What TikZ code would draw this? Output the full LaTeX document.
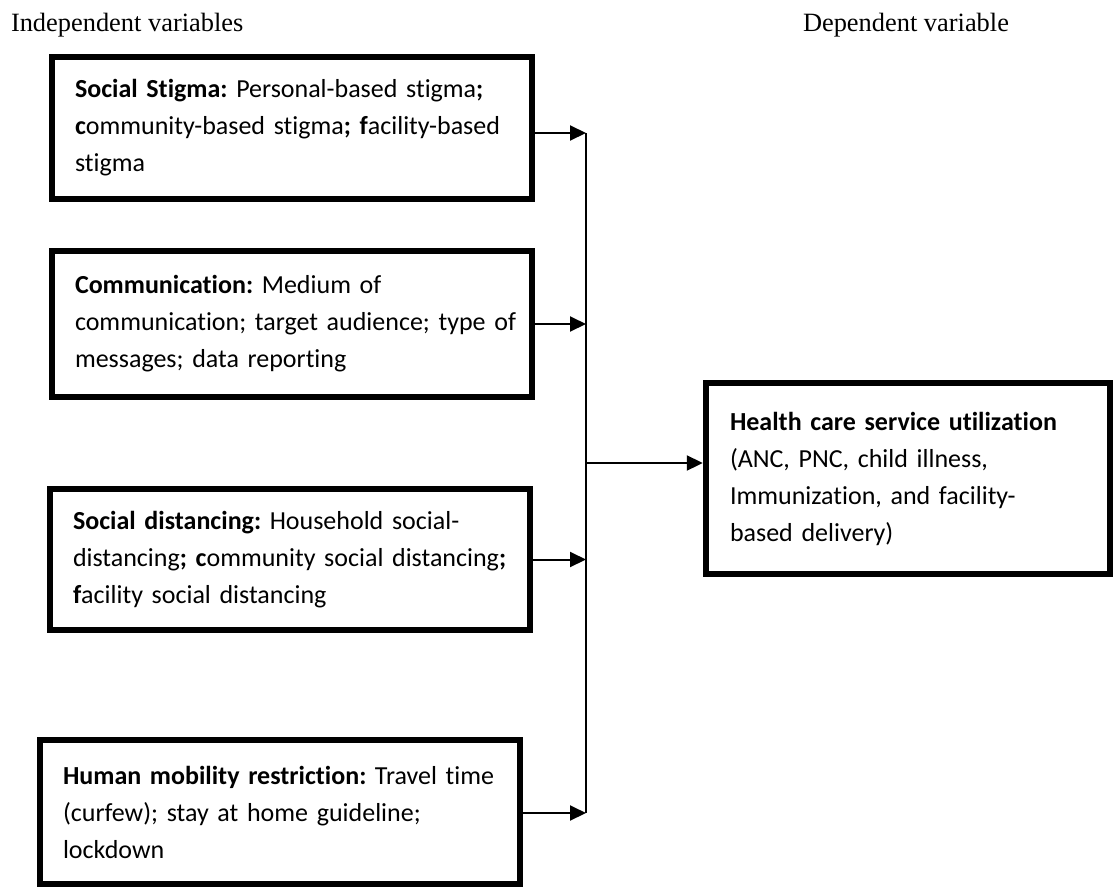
\documentclass[tikz,border=0pt]{standalone}
\usepackage{fontspec}
\setmainfont{Carlito}[Ligatures=NoCommon]
\newfontfamily\headfont{Liberation Serif}
\usepackage{tikz}
\usetikzlibrary{arrows.meta,positioning}
\tikzset{
  every picture/.style = {
    line width = 1pt,
    >={Triangle[length=8pt,width=7.5pt]},
  }
  ,
  varbox/.style = {
    rectangle,
    draw,
    line width = 3.2pt,
    font = \fontsize{13}{18.5}\selectfont\frenchspacing,
    align = left,
    inner xsep = 4pt,
    text width = 232pt,
    minimum width = 240pt,
    execute at begin node = {\leftskip=7.5pt}
  }
  , % the outcome box
  outbox/.style = {
    varbox,
    inner xsep = 12pt,
    text width = 178pt,
    minimum width = 202pt,
    minimum height = 95.3pt,
    execute at begin node = {\leftskip=0pt}
  }
  , % titles of the two columns
  heading/.style = {
    font = \headfont\fontsize{13.2}{16}\selectfont,
    anchor = base west,
    inner sep = 0pt
  }
}

\begin{document}
\begin{tikzpicture}[x=0.5pt, y=-0.5pt]
		\useasboundingbox (0,0) rectangle (1114,889);
		\node at (10,31) [heading] (indep) {Independent variables};
		\node at (802,31) [heading] (dep) {Dependent variable};

		\node at (292,128) [varbox,minimum height=70.8pt] (stigma) {\textbf{Social Stigma:} Personal-based stigma\textbf{;}\\ \textbf{c}ommunity-based stigma\textbf{; f}acility-based\\ stigma};
		\node at (292,324) [varbox,minimum height=72.8pt] (comm) {\textbf{Communication:} Medium of\\ communication; target audience; type of\\ messages; data reporting};
		\node at (290,559.5) [varbox,minimum height=70.3pt] (dist) {\textbf{Social distancing:} Household social-\\ distancing\textbf{; c}ommunity social distancing\textbf{;}\\ \textbf{f}acility social distancing};
		\node at (280,812) [varbox,minimum height=71.8pt] (mobil) {\textbf{Human mobility restriction:} Travel time\\ (curfew); stay at home guideline;\\ lockdown};
		\node at (908,478.5) [outbox] (health) {\textbf{Health care service utilization}\\ (ANC, PNC, child illness,\\ Immunization, and facility-\\ based delivery)};

		\coordinate (bus top) at (586,133);
		\coordinate (bus mid) at (586,463);
		\coordinate (bus bot) at (586,813);

		\draw (bus top) -- (bus bot);
		\draw[->] (stigma.east |- bus top) -- (bus top);
		\draw[->] (comm.east) -- (comm.east -| bus top);
		\draw[->] (dist.east) -- (dist.east -| bus top);
		\draw[->] (mobil.east |- bus bot) -- (bus bot);
		\draw[->] (bus mid) -- (health.west |- bus mid);
		\end{tikzpicture}
\end{document}
